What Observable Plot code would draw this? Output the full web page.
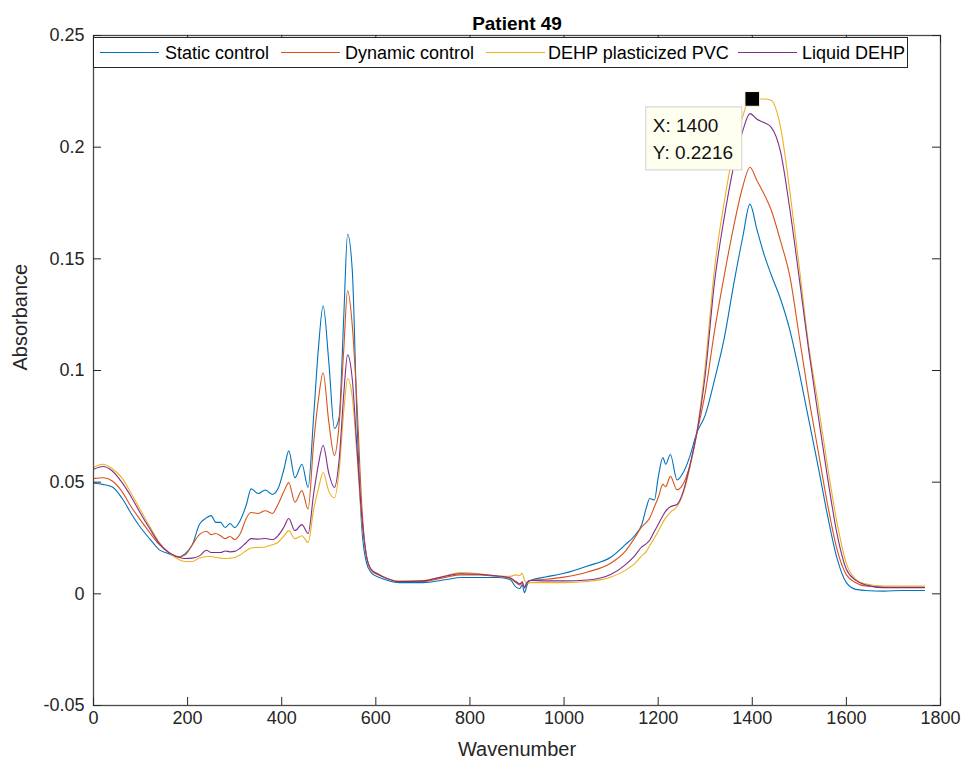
<!DOCTYPE html>
<html>
<head>
<meta charset="utf-8">
<script src="https://cdn.jsdelivr.net/npm/d3@7"></script>
<script src="https://cdn.jsdelivr.net/npm/@observablehq/plot@0.6"></script>
<style>
  html, body { margin: 0; padding: 0; background: #fff; }
  #chart { width: 970px; height: 769px; }
</style>
</head>
<body>
<div id="chart"></div>
<script>
// ---------- Data ----------
const wavenumber = [0,20,40,60,80,100,120,140,160,180,195,210,225,240,250,260,270,280,290,300,312,325,335,350,365,380,392,405,415,428,443,456,468,478,488,500,512,522,532,540,550,560,570,580,590,605,625,650,700,750,780,820,860,885,898,906,911,916,921,928,960,1000,1050,1100,1130,1150,1165,1175,1182,1192,1200,1210,1216,1226,1240,1255,1268,1282,1300,1320,1340,1360,1380,1395,1410,1425,1440,1460,1480,1500,1520,1540,1560,1580,1600,1620,1640,1680,1720,1766];

const staticControl = [0.0495,0.049,0.0478,0.043,0.036,0.0297,0.0245,0.0197,0.018,0.0165,0.018,0.022,0.031,0.034,0.035,0.032,0.032,0.0297,0.0315,0.0297,0.033,0.040,0.047,0.0449,0.0465,0.0445,0.047,0.056,0.064,0.052,0.058,0.0476,0.080,0.110,0.129,0.104,0.074,0.079,0.125,0.161,0.1447,0.0776,0.030,0.014,0.0095,0.0075,0.006,0.005,0.005,0.0064,0.0073,0.0073,0.0073,0.0064,0.003,0.0024,0.004,0.0005,0.0037,0.006,0.0075,0.0092,0.0125,0.0165,0.022,0.026,0.031,0.0387,0.0427,0.042,0.052,0.061,0.058,0.0624,0.051,0.055,0.062,0.072,0.080,0.096,0.114,0.138,0.160,0.1745,0.163,0.152,0.143,0.132,0.118,0.099,0.078,0.057,0.035,0.016,0.005,0.002,0.0015,0.0012,0.0015,0.0015];

const dynamicControl = [0.0516,0.052,0.0505,0.046,0.039,0.033,0.0273,0.022,0.0185,0.0165,0.0175,0.022,0.0265,0.028,0.0265,0.027,0.026,0.0247,0.0257,0.0243,0.027,0.034,0.0364,0.036,0.0372,0.036,0.040,0.046,0.0498,0.041,0.0462,0.038,0.068,0.087,0.099,0.077,0.062,0.076,0.110,0.1357,0.120,0.085,0.040,0.017,0.0105,0.0085,0.0068,0.0055,0.0055,0.0075,0.0085,0.0085,0.0078,0.007,0.005,0.004,0.0055,0.0025,0.005,0.006,0.0065,0.0075,0.0098,0.0138,0.019,0.025,0.030,0.032,0.034,0.039,0.043,0.049,0.048,0.0526,0.0466,0.050,0.058,0.0717,0.090,0.118,0.142,0.164,0.1825,0.191,0.185,0.179,0.172,0.158,0.142,0.115,0.088,0.064,0.040,0.020,0.0085,0.005,0.0035,0.003,0.003,0.003];

const dehpPVC = [0.0566,0.058,0.056,0.052,0.045,0.0375,0.030,0.023,0.0185,0.0155,0.0145,0.0145,0.016,0.0167,0.0167,0.0163,0.016,0.0158,0.016,0.0163,0.0175,0.0194,0.0205,0.0208,0.021,0.022,0.023,0.026,0.0283,0.0247,0.026,0.023,0.038,0.047,0.0543,0.046,0.043,0.055,0.082,0.0963,0.088,0.062,0.033,0.017,0.011,0.009,0.0068,0.0058,0.006,0.0082,0.0095,0.009,0.008,0.0078,0.0085,0.0082,0.0092,0.006,0.005,0.005,0.005,0.005,0.0055,0.0075,0.0105,0.0135,0.017,0.019,0.0215,0.025,0.028,0.032,0.034,0.0365,0.039,0.046,0.057,0.072,0.102,0.146,0.175,0.198,0.214,0.2216,0.2216,0.2216,0.221,0.209,0.180,0.146,0.111,0.085,0.057,0.032,0.0135,0.0065,0.0045,0.0035,0.0035,0.0035];

const liquidDEHP = [0.0557,0.057,0.055,0.050,0.0435,0.036,0.029,0.0225,0.0185,0.0165,0.0158,0.016,0.017,0.0195,0.0185,0.0185,0.0185,0.0192,0.0188,0.019,0.0205,0.023,0.0247,0.0245,0.0248,0.0243,0.026,0.030,0.0337,0.0283,0.031,0.027,0.045,0.058,0.0665,0.054,0.0476,0.060,0.090,0.107,0.096,0.065,0.035,0.017,0.011,0.0088,0.0068,0.0055,0.0058,0.008,0.009,0.0088,0.008,0.0072,0.0055,0.0045,0.005,0.003,0.005,0.006,0.0058,0.0058,0.0062,0.0088,0.013,0.017,0.021,0.0225,0.024,0.028,0.031,0.035,0.037,0.039,0.040,0.047,0.058,0.072,0.098,0.140,0.168,0.191,0.2075,0.215,0.2125,0.211,0.209,0.198,0.172,0.141,0.109,0.080,0.052,0.027,0.011,0.006,0.004,0.0028,0.0028,0.0028];

const seriesNames = ["Static control", "Dynamic control", "DEHP plasticized PVC", "Liquid DEHP"];
const seriesColors = ["#0072BD", "#D95319", "#EDB120", "#7E2F8E"];
const seriesValues = [staticControl, dynamicControl, dehpPVC, liquidDEHP];

const xTicks = [0, 200, 400, 600, 800, 1000, 1200, 1400, 1600, 1800];
const yTicks = [-0.05, 0, 0.05, 0.1, 0.15, 0.2, 0.25];

const tipX = [1400];
const tipY = [0.2216];

// ---------- Build table ----------
const rows = [];
seriesNames.forEach((name, i) => {
  wavenumber.forEach((w, j) => rows.push({x: w, y: seriesValues[i][j], series: name}));
});
const tipData = tipX.map((x, i) => ({x, y: tipY[i]}));

const W = 970, H = 769;
const mT = 35, mB = 64, mL = 93, mR = 30;
const frameH = H - mT - mB, frameW = W - mL - mR;
const tick = 8;
const axisColor = "#262626";
const font = "'Liberation Sans', Arial, Helvetica, sans-serif";

const svg = Plot.plot({
  width: W, height: H,
  marginTop: mT, marginBottom: mB, marginLeft: mL, marginRight: mR,
  style: {fontFamily: font, background: "white", color: axisColor},
  x: {domain: [0, 1800]},
  y: {domain: [-0.05, 0.25]},
  color: {domain: seriesNames, range: seriesColors},
  marks: [
    Plot.line(rows, {x: "x", y: "y", z: "series", stroke: "series", strokeWidth: 1.1, curve: "monotone-x"}),
    Plot.frame({stroke: "#4a4a4a", strokeWidth: 1.3}),
    // inward tick marks on all four sides
    Plot.tickX(xTicks, {x: d => d, insetTop: frameH - tick, stroke: axisColor}),
    Plot.tickX(xTicks, {x: d => d, insetBottom: frameH - tick, stroke: axisColor}),
    Plot.tickY(yTicks, {y: d => d, insetRight: frameW - tick, stroke: axisColor}),
    Plot.tickY(yTicks, {y: d => d, insetLeft: frameW - tick, stroke: axisColor}),
    Plot.axisX({ticks: xTicks, tickSize: 0, tickPadding: 6, fontSize: 18, label: null, fill: axisColor,
                tickFormat: d => String(d)}),
    Plot.axisY({ticks: yTicks, tickSize: 0, tickPadding: 9, fontSize: 18, label: null, fill: axisColor,
                tickFormat: d => String(d)}),
    Plot.text(["Wavenumber"], {text: d => d, frameAnchor: "bottom", dy: 50, fontSize: 20, fill: axisColor}),
    Plot.text(["Absorbance"], {text: d => d, frameAnchor: "left", rotate: -90, dx: -73, fontSize: 20, fill: axisColor}),
    Plot.text(["Patient 49"], {text: d => d, frameAnchor: "top", dy: -19, fontSize: 19, fontWeight: "bold", fill: "#000"}),
    Plot.dot(tipData, {x: "x", y: "y", symbol: "square", r: 8.3, fill: "black", stroke: "#ffffe0", strokeWidth: 1})
  ]
});

document.getElementById("chart").appendChild(svg);

// ---------- Legend (inside the axes, at the top) ----------
const sel = d3.select(svg);
const lg = sel.append("g").attr("font-family", font).attr("font-size", 18).attr("text-anchor", "start");
lg.append("rect")
  .attr("x", 93.5).attr("y", 37.5).attr("width", 814).attr("height", 30)
  .attr("fill", "white").attr("stroke", axisColor).attr("stroke-width", 1);
const lineStarts = [100, 281, 486, 738];
const textStarts = [165, 345, 548, 802];
seriesNames.forEach((name, i) => {
  lg.append("line")
    .attr("x1", lineStarts[i]).attr("x2", lineStarts[i] + 59)
    .attr("y1", 52.5).attr("y2", 52.5)
    .attr("stroke", seriesColors[i]).attr("stroke-width", 1.1);
  lg.append("text")
    .attr("x", textStarts[i]).attr("y", 59)
    .attr("text-anchor", "start")
    .attr("fill", "#000").text(name);
});

// ---------- Data tip ----------
const xs = svg.scale("x"), ys = svg.scale("y");
const px = xs.apply(tipX[0]), py = ys.apply(tipY[0]);
const tg = sel.append("g").attr("font-family", font).attr("font-size", 19).attr("text-anchor", "start");
tg.append("rect")
  .attr("x", px - 106).attr("y", py + 8.5).attr("width", 96).attr("height", 63)
  .attr("fill", "#fffff0").attr("stroke", "#cfcfcf").attr("stroke-width", 1);
tg.append("text").attr("x", px - 99).attr("y", py + 34).attr("fill", "#111").text("X: " + tipX[0]);
tg.append("text").attr("x", px - 99).attr("y", py + 61).attr("fill", "#111").text("Y: " + tipY[0]);
</script>
</body>
</html>
